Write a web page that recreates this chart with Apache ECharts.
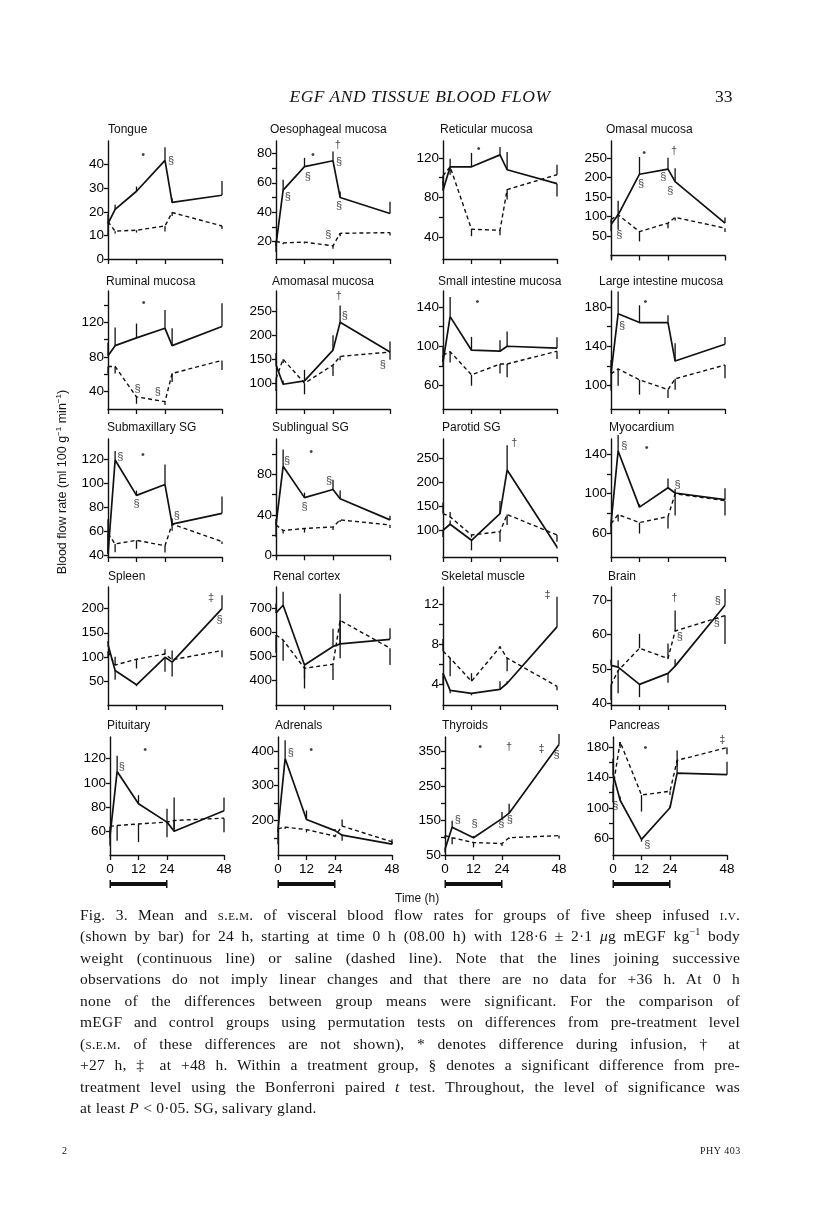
<!DOCTYPE html>
<html><head><meta charset="utf-8">
<script src="https://cdn.jsdelivr.net/npm/echarts@6/dist/echarts.min.js"></script>
<style>
body{margin:0;background:#fff;}
#page{position:relative;width:816px;height:1219px;overflow:hidden;background:#fff;}
#chart{position:absolute;left:0;top:0;width:816px;height:1219px;}
.serif{font-family:"Liberation Serif","DejaVu Serif",serif;color:#151515;position:absolute;}
.sans{font-family:"Liberation Sans",Arial,sans-serif;color:#151515;position:absolute;}
sup{line-height:0;}
#caption{left:80px;top:904px;width:660px;font-size:15.5px;line-height:21.45px;letter-spacing:0.22px;}
#caption div{text-align:justify;text-align-last:justify;white-space:nowrap;}
#caption div.last{text-align-last:left;}
.sc{font-variant:small-caps;}
</style></head><body>
<div id="page">
<div id="chart"></div>
<div class="serif" style="left:0;width:840px;top:86px;text-align:center;font-size:17.5px;font-style:italic;letter-spacing:0.5px;">EGF AND TISSUE BLOOD FLOW</div>
<div class="serif" style="left:715px;top:86px;font-size:17.5px;">33</div>
<div class="sans" style="left:395px;top:891px;font-size:12px;">Time (h)</div>
<div class="sans" style="left:62px;top:482px;font-size:12.5px;white-space:nowrap;transform:translate(-50%,-50%) rotate(-90deg);">Blood flow rate (ml 100 g<sup style="font-size:8px">−1</sup> min<sup style="font-size:8px">−1</sup>)</div>
<div id="caption" class="serif">
<div>Fig. 3. Mean and <span class="sc">s.e.m.</span> of visceral blood flow rates for groups of five sheep infused <span class="sc">i.v.</span></div>
<div>(shown by bar) for 24 h, starting at time 0 h (08.00 h) with 128·6 ± 2·1 <i>μ</i>g mEGF kg<sup style="font-size:10px">−1</sup> body</div>
<div>weight (continuous line) or saline (dashed line). Note that the lines joining successive</div>
<div>observations do not imply linear changes and that there are no data for +36 h. At 0 h</div>
<div>none of the differences between group means were significant. For the comparison of</div>
<div>mEGF and control groups using permutation tests on differences from pre-treatment level</div>
<div>(<span class="sc">s.e.m.</span> of these differences are not shown), * denotes difference during infusion, † at</div>
<div>+27 h, ‡ at +48 h. Within a treatment group, § denotes a significant difference from pre-</div>
<div>treatment level using the Bonferroni paired <i>t</i> test. Throughout, the level of significance was</div>
<div class="last">at least <i>P</i> &lt; 0·05. SG, salivary gland.</div>
</div>
<div class="serif" style="left:62px;top:1145px;font-size:10px;">2</div>
<div class="serif" style="left:700px;top:1145px;font-size:10px;letter-spacing:0.5px;">PHY 403</div>
</div>
<script>
// ---------- shared ----------
const times = [0, 3, 12, 24, 27, 48];
const xTickValues = [0, 12, 24, 48];
const infusionPeriod = [0, 24];
const titles = ['Tongue','Oesophageal mucosa','Reticular mucosa','Omasal mucosa',
 'Ruminal mucosa','Amomasal mucosa','Small intestine mucosa','Large intestine mucosa',
 'Submaxillary SG','Sublingual SG','Parotid SG','Myocardium',
 'Spleen','Renal cortex','Skeletal muscle','Brain',
 'Pituitary','Adrenals','Thyroids','Pancreas'];

// ---------- Tongue ----------
const tongueEGF = [15, 21, 28.7, 41.8, 24, 27];
const tongueSaline = [15.8, 11.8, 12.2, 14, 19.7, 14];
const tongueSemEGF = [4, 2, 2, 5.6, 1.7, 6];
const tongueSemSaline = [-6, -1, -1, -2.4, -1.5, -1.3];
const tongueLabels = [0, 10, 20, 30, 40];
const tongueTicks = [0, 10, 20, 30, 40];
const tongueMarks = [[14.8, 44, '•'], [26.5, 41.5, '§']];

// ---------- Oesophageal mucosa ----------
const oesoEGF = [17.7, 55, 71, 75, 50, 39];
const oesoSaline = [20, 19, 19.5, 17, 25.5, 26];
const oesoSemEGF = [-5, 7, 6, 6.3, 4, 8];
const oesoSemSaline = [-3, -1, -1, -2, -2, -2];
const oesoLabels = [20, 40, 60, 80];
const oesoTicks = [20, 30, 40, 50, 60, 70, 80];
const oesoMarks = [[15.5, 79, '•'], [26, 86, '†'], [5, 50.6, '§'], [13.4, 64, '§'], [26.5, 74, '§'], [26.5, 44, '§'], [22, 24.5, '§']];

// ---------- Reticular mucosa ----------
const reticEGF = [87, 111, 111, 123, 108, 94];
const reticSaline = [102, 111, 48, 47, 88, 103];
const reticSemEGF = [10, 8, 14, 8, 18, -13];
const reticSemSaline = [-10, -8, -7, -5, -10, 10];
const reticLabels = [40, 80, 120];
const reticTicks = [40, 60, 80, 100, 120];
const reticMarks = [[15, 129, '•']];

// ---------- Omasal mucosa ----------
const omasEGF = [79, 104, 208, 221, 189, 83];
const omasSaline = [92, 104, 61, 83, 97.5, 70];
const omasSemEGF = [-17, 36, 44, 29, 34, 14];
const omasSemSaline = [-10, -38, -25, -13, -8, -10];
const omasLabels = [50, 100, 150, 200, 250];
const omasTicks = [50, 100, 150, 200, 250];
const omasMarks = [[14, 263, '•'], [26.5, 267, '†'], [12.7, 182, '§'], [22, 201, '§'], [25, 165, '§'], [3.5, 52, '§']];

// ---------- Ruminal mucosa ----------
const rumEGF = [81.5, 93, 102, 113, 93, 115];
const rumSaline = [69, 69, 34, 28.5, 61, 76];
const rumSemEGF = [15, 21, 16.5, 21, 20, 27];
const rumSemSaline = [-8, -8, -8, -4, -10, -11];
const rumLabels = [40, 80, 120];
const rumTicks = [40, 60, 80, 100, 120, 140];
const rumMarks = [[15, 142, '•'], [12.4, 43, '§'], [21, 40, '§']];

// ---------- Amomasal mucosa ----------
const amoEGF = [138, 98, 105, 169, 227, 165];
const amoSaline = [110, 150, 100, 138, 156, 165];
const amoSemEGF = [25, 8, 23, 31, 35, 22];
const amoSemSaline = [-26, -8, -23, -23, -8, -16];
const amoLabels = [100, 150, 200, 250];
const amoTicks = [100, 150, 200, 250];
const amoMarks = [[26.4, 282, '†'], [29, 241, '§'], [45, 138, '§']];

// ---------- Small intestine mucosa ----------
const smallEGF = [84, 130, 96, 95, 100, 98];
const smallSaline = [91, 94.5, 71, 82, 82, 95];
const smallSemEGF = [15, 20, 13.5, 11, 15, 11];
const smallSemSaline = [-11, -11, -11, -9.5, -13.5, -8];
const smallLabels = [60, 100, 140];
const smallTicks = [60, 80, 100, 120, 140];
const smallMarks = [[14.5, 145, '•']];

// ---------- Large intestine mucosa ----------
const largeEGF = [112.5, 173, 164, 164, 125, 142];
const largeSaline = [112, 117, 106, 96, 107, 121];
const largeSemEGF = [13.5, 22.6, 17.5, 7.4, 18, 7.4];
const largeSemSaline = [-17, -17, -15, -8.5, -11, -13.5];
const largeLabels = [100, 140, 180];
const largeTicks = [100, 120, 140, 160, 180];
const largeMarks = [[14.5, 185, '•'], [4.7, 161, '§']];

// ---------- Submaxillary SG ----------
const submaxEGF = [41, 119.5, 90, 99, 66, 75];
const submaxSaline = [58, 49.5, 52.5, 48, 66, 51.5];
const submaxSemEGF = [29, 7.5, 4, 16.7, 4.7, 14];
const submaxSemSaline = [-15, -7, -7, -5.6, -5.6, -2];
const submaxLabels = [40, 60, 80, 100, 120];
const submaxTicks = [40, 60, 80, 100, 120];
const submaxMarks = [[5.2, 122, '§'], [14.7, 124, '•'], [12, 83, '§'], [29, 73, '§']];

// ---------- Sublingual SG ----------
const sublEGF = [30, 88, 57, 65, 56, 35];
const sublSaline = [30, 24.5, 26.5, 28, 35, 30];
const sublSemEGF = [6, 16.5, 5, 9.6, 8, 4];
const sublSemSaline = [-11.6, -3, -4, -3, -2, -3];
const sublLabels = [0, 40, 80];
const sublTicks = [0, 20, 40, 60, 80, 100];
const sublMarks = [[4.7, 93, '§'], [14.8, 102, '•'], [12, 48, '§'], [22.3, 73, '§']];

// ---------- Parotid SG ----------
const parEGF = [100, 112.5, 79, 135, 226, 65];
const parSaline = [135, 128, 90, 97, 133, 90];
const parSemEGF = [-14, 8, -21, 26, 52, -3];
const parSemSaline = [23, 10, -5, -21, -22, -14];
const parLabels = [100, 150, 200, 250];
const parTicks = [100, 150, 200, 250];
const parMarks = [[30, 282, '†']];

// ---------- Myocardium ----------
const myoEGF = [70, 143, 86.5, 106, 100.7, 94];
const myoSaline = [70, 79, 71, 77, 100, 93];
const myoSemEGF = [-10, 16, 3, 9.4, 4, 11.4];
const myoSemSaline = [-3, -7, -11, -12, -22, -15];
const myoLabels = [60, 100, 140];
const myoTicks = [60, 80, 100, 120, 140];
const myoMarks = [[5.6, 147.5, '§'], [15, 146, '•'], [28, 109, '§']];

// ---------- Spleen ----------
const splEGF = [125, 71.5, 42, 99, 89, 200];
const splSaline = [111, 83, 95, 106, 94, 113];
const splSemEGF = [8, -19, -3, -30, -30, 28];
const splSemSaline = [-12, 17, -19, 10, 19, -14];
const splLabels = [50, 100, 150, 200];
const splTicks = [50, 100, 150, 200];
const splMarks = [[43.4, 222, '‡'], [47, 177, '§']];

// ---------- Renal cortex ----------
const renEGF = [682, 714, 465, 542, 553, 572];
const renSaline = [590, 569, 451, 468, 651, 535];
const renSemEGF = [39, 56, -98, 74, 209, 46];
const renSemSaline = [-74, -86, -42, -66, -158, -70];
const renLabels = [400, 500, 600, 700];
const renTicks = [400, 500, 600, 700];
const renMarks = [];

// ---------- Skeletal muscle ----------
const skelEGF = [5.1, 3.4, 3.1, 3.5, 4.1, 9.7];
const skelSaline = [7.3, 6.6, 4.3, 7.7, 6.6, 3.8];
const skelSemEGF = [-1.2, -0.3, -0.2, 0.8, 0.2, 3];
const skelSemSaline = [1.2, -1.8, 0.8, 0.1, -1.3, -0.4];
const skelLabels = [4, 8, 12];
const skelTicks = [4, 6, 8, 10, 12];
const skelMarks = [[44, 12.9, '‡']];

// ---------- Brain ----------
const brainEGF = [51, 50.5, 45.5, 48.7, 50.8, 68.5];
const brainSaline = [45.3, 49.5, 56, 53, 61, 65.5];
const brainSemEGF = [1.7, 2, -3.7, -2.7, 2, 4.7];
const brainSemSaline = [-4.4, -6.6, 4.2, 4.4, 6, -8.3];
const brainLabels = [40, 50, 60, 70];
const brainTicks = [40, 50, 60, 70];
const brainMarks = [[26.8, 70.6, '†'], [45, 69.6, '§'], [44.5, 63.3, '§'], [29, 59.4, '§']];

// ---------- Pituitary ----------
const pitEGF = [56, 109.5, 82.8, 67.5, 60, 77];
const pitSaline = [64, 64.7, 66, 67.5, 68.9, 70.8];
const pitSemEGF = [-8, 13, 7, 11, 28, 11];
const pitSemSaline = [-10, -12.5, -15, -12.5, -7, -11.6];
const pitLabels = [60, 80, 100, 120];
const pitTicks = [60, 80, 100, 120];
const pitMarks = [[14.8, 127, '•'], [5, 113, '§']];

// ---------- Adrenals ----------
const adrEGF = [175, 378, 203, 171, 158, 132];
const adrSaline = [176, 181, 174, 155, 184, 139];
const adrSemEGF = [-43, 53, 26, 5, -16, 14];
const adrSemSaline = [-10, -5, -8, -3, 19, -7];
const adrLabels = [200, 300, 400];
const adrTicks = [150, 200, 250, 300, 350, 400];
const adrMarks = [[5.4, 395, '§'], [14, 402, '•']];

// ---------- Thyroids ----------
const thyEGF = [67, 130, 100, 155, 171, 369];
const thySaline = [106, 100, 86, 83, 100, 106];
const thySemEGF = [-10, 19, 5, 19, 27, 31];
const thySemSaline = [-8, -19, -14, -7, -4, -8];
const thyLabels = [50, 150, 250, 350];
const thyTicks = [50, 100, 150, 200, 250, 300, 350];
const thyMarks = [[14.8, 362, '•'], [27, 362, '†'], [40.7, 355, '‡'], [47, 338, '§'], [5.4, 150, '§'], [12.4, 140, '§'], [23.7, 140, '§'], [27.3, 150, '§']];

// ---------- Pancreas ----------
const panEGF = [145, 110, 58, 100, 146, 144];
const panSaline = [127, 187.5, 117, 122, 163, 180];
const panSemEGF = [20, 5, -3, 3, 30, 17];
const panSemSaline = [-20, -8, -22, -5, -8, -9];
const panLabels = [60, 100, 140, 180];
const panTicks = [60, 80, 100, 120, 140, 160, 180];
const panMarks = [[13.7, 179, '•'], [46, 190, '‡'], [1, 103, '§'], [14.4, 50, '§']];

// ---------- panel table (built from the arrays above) ----------
const panels = [
 [tongueEGF, tongueSaline, tongueSemEGF, tongueSemSaline, tongueLabels, tongueTicks, tongueMarks, 0, 50],
 [oesoEGF, oesoSaline, oesoSemEGF, oesoSemSaline, oesoLabels, oesoTicks, oesoMarks, 8, 88.5],
 [reticEGF, reticSaline, reticSemEGF, reticSemSaline, reticLabels, reticTicks, reticMarks, 18, 137],
 [omasEGF, omasSaline, omasSemEGF, omasSemSaline, omasLabels, omasTicks, omasMarks, -9, 293],
 [rumEGF, rumSaline, rumSemEGF, rumSemSaline, rumLabels, rumTicks, rumMarks, 20, 156],
 [amoEGF, amoSaline, amoSemEGF, amoSemSaline, amoLabels, amoTicks, amoMarks, 46.5, 292],
 [smallEGF, smallSaline, smallSemEGF, smallSemSaline, smallLabels, smallTicks, smallMarks, 36.4, 156],
 [largeEGF, largeSaline, largeSemEGF, largeSemSaline, largeLabels, largeTicks, largeMarks, 76.4, 196],
 [submaxEGF, submaxSaline, submaxSemEGF, submaxSemSaline, submaxLabels, submaxTicks, submaxMarks, 38.6, 137],
 [sublEGF, sublSaline, sublSemEGF, sublSemSaline, sublLabels, sublTicks, sublMarks, -1.7, 115],
 [parEGF, parSaline, parSemEGF, parSemSaline, parLabels, parTicks, parMarks, 44, 291],
 [myoEGF, myoSaline, myoSemEGF, myoSemSaline, myoLabels, myoTicks, myoMarks, 36.4, 155],
 [splEGF, splSaline, splSemEGF, splSemSaline, splLabels, splTicks, splMarks, 0, 245],
 [renEGF, renSaline, renSemEGF, renSemSaline, renLabels, renTicks, renMarks, 298, 790],
 [skelEGF, skelSaline, skelSemEGF, skelSemSaline, skelLabels, skelTicks, skelMarks, 1.94, 13.67],
 [brainEGF, brainSaline, brainSemEGF, brainSemSaline, brainLabels, brainTicks, brainMarks, 39.5, 73.8],
 [pitEGF, pitSaline, pitSemEGF, pitSemSaline, pitLabels, pitTicks, pitMarks, 40.3, 138],
 [adrEGF, adrSaline, adrSemEGF, adrSemSaline, adrLabels, adrTicks, adrMarks, 101, 440],
 [thyEGF, thySaline, thySemEGF, thySemSaline, thyLabels, thyTicks, thyMarks, 50, 391],
 [panEGF, panSaline, panSemEGF, panSemSaline, panLabels, panTicks, panMarks, 37.3, 194]
];

// ---------- layout ----------
const colLeft = [108, 276, 443, 611];
const rowBottom = [259, 409, 557, 705, 855];
const gridW = 114, gridH = 118;
const titleTop = [124, 276, 422, 571, 720];
const titleLeft = [108, 270, 440, 606, 106, 272, 438, 599, 107, 272, 442, 609, 108, 273, 441, 608, 107, 275, 442, 609];
const FONT = '"Liberation Sans", Arial, sans-serif';

const grid = [], xAxis = [], yAxis = [], series = [], graphic = [];
panels.forEach((p, i) => {
  const [egf, sal, semE, semS, labels, ticks, marks, yMin, yMax] = p;
  const r = Math.floor(i / 4), c = i % 4;
  const bottomRow = r === 4;
  grid.push({left: colLeft[c] + (bottomRow ? 2 : 0), top: rowBottom[r] - gridH, width: gridW, height: gridH});
  xAxis.push({
    gridIndex: i, type: 'value', min: 0, max: 48,
    axisLine: {show: true, lineStyle: {color: '#111', width: 1.4}},
    axisTick: {show: true, customValues: xTickValues, length: 5, lineStyle: {color: '#111', width: 1.3}},
    axisLabel: {show: bottomRow, customValues: xTickValues, fontSize: 13.5, color: '#000', fontFamily: FONT, margin: 7},
    splitLine: {show: false}
  });
  yAxis.push({
    gridIndex: i, type: 'value', min: yMin, max: yMax,
    axisLine: {show: true, onZero: false, lineStyle: {color: '#111', width: 1.4}},
    axisTick: {show: true, customValues: ticks, length: 4, lineStyle: {color: '#111', width: 1.3}},
    axisLabel: {show: true, customValues: labels, fontSize: 13.5, color: '#000', fontFamily: FONT, margin: 4},
    splitLine: {show: false}
  });
  series.push({
    type: 'line', xAxisIndex: i, yAxisIndex: i, showSymbol: false, symbol: 'none', silent: true,
    data: times.map((t, k) => [t, egf[k]]),
    lineStyle: {color: '#111', width: 1.7}, z: 3
  });
  series.push({
    type: 'line', xAxisIndex: i, yAxisIndex: i, showSymbol: false, symbol: 'none', silent: true,
    data: times.map((t, k) => [t, sal[k]]),
    lineStyle: {color: '#111', width: 1.4, type: [4, 3]}, z: 3
  });
  const errData = [];
  times.forEach((t, k) => { errData.push([t, egf[k], semE[k]]); errData.push([t, sal[k], semS[k]]); });
  series.push({
    type: 'custom', xAxisIndex: i, yAxisIndex: i, silent: true, clip: false,
    data: errData,
    renderItem: (params, api) => {
      const a = api.coord([api.value(0), api.value(1)]);
      const b = api.coord([api.value(0), api.value(1) + api.value(2)]);
      return {type: 'line', shape: {x1: a[0], y1: a[1], x2: b[0], y2: b[1]}, style: {stroke: '#111', lineWidth: 1.3}};
    }, z: 4
  });
  series.push({
    type: 'scatter', xAxisIndex: i, yAxisIndex: i, silent: true, symbolSize: 1,
    itemStyle: {color: 'rgba(0,0,0,0)'},
    data: marks,
    label: {show: true, position: 'inside', formatter: q => q.data[2], fontSize: 11, color: '#111', fontFamily: FONT},
    z: 5
  });
  if (bottomRow) {
    series.push({
      type: 'custom', xAxisIndex: i, yAxisIndex: i, silent: true, clip: false,
      data: [infusionPeriod],
      renderItem: (params, api) => {
        const a = api.coord([api.value(0), yMin]);
        const b = api.coord([api.value(1), yMin]);
        return {type: 'group', children: [
          {type: 'rect', shape: {x: a[0], y: a[1] + 27, width: b[0] - a[0], height: 4}, style: {fill: '#111'}},
          {type: 'rect', shape: {x: a[0] - 0.5, y: a[1] + 25, width: 1.5, height: 8}, style: {fill: '#111'}},
          {type: 'rect', shape: {x: b[0] - 1, y: a[1] + 25, width: 1.5, height: 8}, style: {fill: '#111'}}
        ]};
      }
    });
  }
  graphic.push({type: 'text', left: titleLeft[i], top: titleTop[r], silent: true,
    style: {text: titles[i], font: '12px ' + FONT, fill: '#111'}});
});

const chart = echarts.init(document.getElementById('chart'), null, {renderer: 'canvas'});
chart.setOption({
  backgroundColor: 'transparent',
  animation: false,
  grid, xAxis, yAxis, series, graphic
});
</script>
</body></html>
